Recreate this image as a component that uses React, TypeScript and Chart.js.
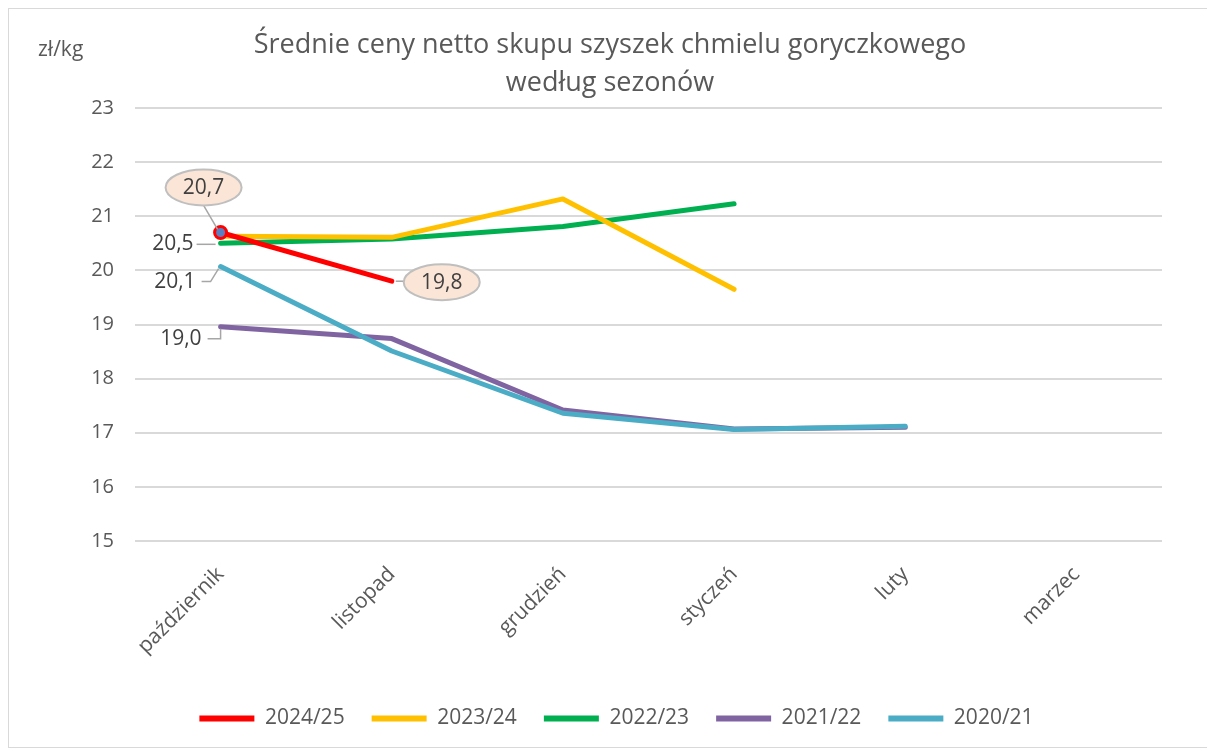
import React, { useEffect, useRef } from "react";
import { Chart, registerables } from "chart.js";

Chart.register(...registerables);

const titleLines = ["Średnie ceny netto skupu szyszek chmielu goryczkowego", "według sezonów"];
const unitLabel = "zł/kg";
const months = ["październik", "listopad", "grudzień", "styczeń", "luty", "marzec"];
const seasons = ["2024/25", "2023/24", "2022/23", "2021/22", "2020/21"];
const s2024 = [20.7, 19.8, null, null, null, null];
const s2023 = [20.63, 20.61, 21.32, 19.65, null, null];
const s2022 = [20.5, 20.58, 20.81, 21.23, null, null];
const s2021 = [18.96, 18.74, 17.42, 17.07, 17.1, null];
const s2020 = [20.07, 18.51, 17.36, 17.06, 17.12, null];
const seriesColors = ["#ff0000", "#ffc000", "#00b050", "#8064a2", "#4bacc6"];
const yMin = 15;
const yMax = 23;

const FONT = "'Open Sans', sans-serif";
const TXT = "#595959";

const fmt = (v: number) => v.toFixed(1).replace(".", ",");

const annotPlugin = {
  id: "annot",
  afterDatasetsDraw(chart: any) {
    const ctx = chart.ctx as CanvasRenderingContext2D;
    const pt = (ds: number, i: number) => chart.getDatasetMeta(ds).data[i];
    const val = (ds: number, i: number) => chart.data.datasets[ds].data[i] as number;
    ctx.save();
    ctx.font = `21px ${FONT}`;
    ctx.textBaseline = "middle";
    const lead = "#a6a6a6";

    const bubble = (ds: number, i: number, dx: number, dy: number, kind: string) => {
      const p = pt(ds, i);
      const cx = p.x + dx;
      const cy = p.y + dy;
      const rx = 38, ry = 18;
      ctx.strokeStyle = lead;
      ctx.lineWidth = 1.5;
      ctx.beginPath();
      if (kind === "up") {
        ctx.moveTo(cx, cy + ry);
        ctx.lineTo(p.x - 3, p.y - 3);
      } else {
        ctx.moveTo(p.x + 4, p.y);
        ctx.lineTo(cx - rx, p.y);
      }
      ctx.stroke();
      ctx.beginPath();
      ctx.ellipse(cx, cy, rx, ry, 0, 0, Math.PI * 2);
      ctx.fillStyle = "#fbe5d6";
      ctx.fill();
      ctx.strokeStyle = "#bfbfbf";
      ctx.lineWidth = 2;
      ctx.stroke();
      ctx.fillStyle = "#404040";
      ctx.textAlign = "center";
      ctx.fillText(fmt(val(ds, i)), cx, cy + 1);
    };

    const plain = (ds: number, i: number, tx: number, ty: number, path: number[][]) => {
      const p = pt(ds, i);
      ctx.strokeStyle = lead;
      ctx.lineWidth = 1.5;
      ctx.beginPath();
      path.forEach(([ax, ay], k) => {
        if (k === 0) ctx.moveTo(p.x + ax, p.y + ay);
        else ctx.lineTo(p.x + ax, p.y + ay);
      });
      ctx.stroke();
      ctx.fillStyle = "#404040";
      ctx.textAlign = "right";
      ctx.fillText(fmt(val(ds, i)), p.x + tx, p.y + ty);
    };

    bubble(0, 0, -17, -45, "up");
    bubble(0, 1, 50, 1, "side");
    plain(2, 0, -27, 1, [[-24, 1], [-5, 1]]);
    plain(4, 0, -25, 15, [[-19, 15], [-10, 15], [-2, 2]]);
    plain(3, 0, -19, 12, [[-13, 12], [0, 12], [0, 2]]);
    ctx.restore();
  },
  afterDraw(chart: any) {
    const ctx = chart.ctx as CanvasRenderingContext2D;
    ctx.save();
    ctx.fillStyle = TXT;
    ctx.textAlign = "center";
    ctx.textBaseline = "middle";
    ctx.font = `27px ${FONT}`;
    const cx = chart.width / 2;
    ctx.fillText(titleLines[0], cx + 2, 36);
    ctx.fillText(titleLines[1], cx + 2, 74);
    ctx.font = `21px ${FONT}`;
    ctx.textAlign = "left";
    ctx.fillText(unitLabel, 29, 41);
    ctx.restore();
  },
};

export default function App() {
  const ref = useRef<HTMLCanvasElement | null>(null);
  useEffect(() => {
    if (!ref.current) return;
    const all = [s2024, s2023, s2022, s2021, s2020];
    const drawOrder = [0, 1, 2, 4, 3];
    const chart = new Chart(ref.current, {
      type: "line",
      data: {
        labels: months,
        datasets: all.map((d, k) => ({
          label: seasons[k],
          data: d,
          borderColor: seriesColors[k],
          backgroundColor: seriesColors[k],
          borderWidth: 5,
          borderCapStyle: "round",
          borderJoinStyle: "round",
          tension: 0,
          spanGaps: false,
          order: drawOrder[k],
          pointRadius: k === 0 ? [6, 0, 0, 0, 0, 0] : 0,
          pointBorderWidth: 3,
          pointBorderColor: seriesColors[k],
          pointBackgroundColor: "#5b7fc0",
          pointHoverRadius: 0,
        })) as any,
      },
      options: {
        responsive: false,
        animation: false,
        layout: { padding: { top: 99, right: 45, bottom: 8, left: 62 } },
        plugins: {
          title: { display: false },
          tooltip: { enabled: false },
          legend: {
            position: "bottom",
            labels: {
              font: { family: FONT, size: 21 },
              color: TXT,
              boxWidth: 55,
              boxHeight: 6,
              padding: 27,
              generateLabels: (c: any) =>
                Chart.defaults.plugins.legend.labels
                  .generateLabels(c)
                  .map((l: any) => ({ ...l, lineWidth: 0 }))
                  .sort((a: any, b: any) => a.datasetIndex - b.datasetIndex),
            },
          },
        },
        scales: {
          x: {
            offset: true,
            grid: { display: false, drawTicks: false },
            border: { display: false },
            ticks: {
              font: { family: FONT, size: 21 },
              color: TXT,
              maxRotation: 45,
              minRotation: 45,
              padding: 21,
              autoSkip: false,
            },
            afterFit: (s: any) => {
              s.height = 140;
            },
          },
          y: {
            min: yMin,
            max: yMax,
            grid: { color: "#d9d9d9", lineWidth: 2, drawTicks: false },
            border: { display: false },
            ticks: {
              stepSize: 1,
              font: { family: FONT, size: 20 },
              color: TXT,
              padding: 21,
            },
            afterFit: (s: any) => {
              s.width = 64;
            },
          },
        },
      },
      plugins: [annotPlugin],
    });
    return () => chart.destroy();
  }, []);
  return (
    <div
      style={{
        width: 1200,
        height: 740,
        border: "1px solid #d9d9d9",
        boxSizing: "border-box",
        background: "#fff",
      }}
    >
      <canvas ref={ref} width={1198} height={738} style={{ display: "block" }} />
    </div>
  );
}
